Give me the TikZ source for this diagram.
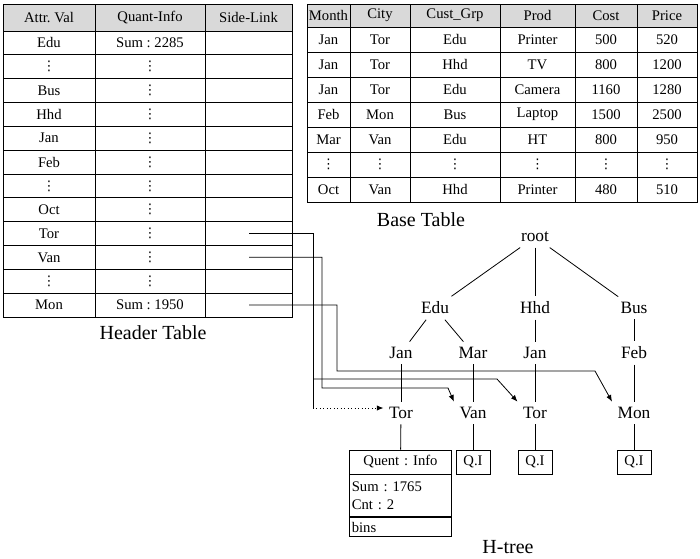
\documentclass[tikz,border=0pt]{standalone}
\usepackage{fontspec}
\setmainfont{Liberation Serif}
\newfontfamily\dotsfont{DejaVu Sans}
\usetikzlibrary{arrows.meta,positioning}

\newcommand{\vdts}{{\dotsfont\fontsize{10}{12}\selectfont ⋮}}

\tikzset{
  cell/.style={inner sep=0pt, font=\fontsize{11}{13}\selectfont},
  tnode/.style={inner sep=4pt, font=\fontsize{13}{15}\selectfont},
  caption/.style={font=\fontsize{15}{18}\selectfont},
  qibox/.style={draw, line width=0.6pt, minimum width=25.5pt, minimum height=18pt,
    inner sep=1pt, font=\fontsize{11}{13}\selectfont},
  qpart/.style={draw, line width=0.6pt, text width=73pt, inner sep=2pt, align=left,
    font=\fontsize{11}{13}\selectfont},
  tedge/.style={line width=0.6pt},
  wire/.style={line width=0.6pt},
  link/.style={line width=0.6pt, -{Latex[length=5pt,width=4pt]}},
}

\begin{document}
\frenchspacing
\begin{tikzpicture}[x=0.75pt,y=-0.75pt]
  \useasboundingbox (0,0) rectangle (700,558);

  % Header table
  \fill[gray!30] (3,4) rectangle (292,31);
  \draw[line width=0.6pt] (3,4) rectangle (292,317);
  \foreach \i in {0,...,11}
    \draw[line width=0.6pt] (3,{31+\i*23.83}) -- (292,{31+\i*23.83});
  \draw[line width=0.6pt] (95,4) -- (95,317);
  \draw[line width=0.6pt] (205,4) -- (205,317);
  \node[cell] (hAttr) at (49,17.5) {Attr. Val};
  \node[cell] (hQuant) at (150,17.5) {Quant-Info};
  \node[cell] (hSide) at (248.5,17.5) {Side-Link};
  \foreach \a/\q [count=\i] in {Edu/Sum : 2285, \vdts/\vdts, Bus/\vdts, Hhd/\vdts,
      Jan/\vdts, Feb/\vdts, \vdts/\vdts, Oct/\vdts, Tor/\vdts, Van/\vdts,
      \vdts/\vdts, Mon/Sum : 1950} {
    \node[cell] (attr\i) at (49,{31+(\i-0.5)*23.83}) {\a};
    \node[cell] (quant\i) at (150,{31+(\i-0.5)*23.83}) {\q};
  }
  \node[caption] (hCap) at (153,333) {Header Table};

  % Base table
  \fill[gray!30] (307,4) rectangle (697,27);
  \draw[line width=0.6pt] (307,4) rectangle (697,202);
  \foreach \i in {0,...,6}
    \draw[line width=0.6pt] (307,{27+\i*25}) -- (697,{27+\i*25});
  \foreach \x in {350,410,500,575,637}
    \draw[line width=0.6pt] (\x,4) -- (\x,202);
  \foreach \t/\x [count=\j] in {Month/328.5, City/380, Cust\_Grp/455, Prod/537.5,
      Cost/606, Price/667}
    \node[cell] (bHead\j) at (\x,15.5) {\t};
  \foreach \m/\c/\g/\p/\co/\pr [count=\i] in {Jan/Tor/Edu/Printer/500/520,
      Jan/Tor/Hhd/TV/800/1200, Jan/Tor/Edu/Camera/1160/1280,
      Feb/Mon/Bus/Laptop/1500/2500, Mar/Van/Edu/HT/800/950,
      \vdts/\vdts/\vdts/\vdts/\vdts/\vdts, Oct/Van/Hhd/Printer/480/510} {
    \node[cell] (bMonth\i) at (328.5,{27+(\i-0.5)*25}) {\m};
    \node[cell] (bCity\i) at (380,{27+(\i-0.5)*25}) {\c};
    \node[cell] (bGrp\i) at (455,{27+(\i-0.5)*25}) {\g};
    \node[cell] (bProd\i) at (537.5,{27+(\i-0.5)*25}) {\p};
    \node[cell] (bCost\i) at (606,{27+(\i-0.5)*25}) {\co};
    \node[cell] (bPrice\i) at (667,{27+(\i-0.5)*25}) {\pr};
  }
  \node[caption] (bCap) at (421,220) {Base Table};

  % H-tree
  \node[tnode] (root) at (535,237) {root};
  \node[tnode] (edu) at (435,308) {Edu};
  \node[tnode] (hhd) at (535,308) {Hhd};
  \node[tnode] (bus) at (634,308) {Bus};
  \node[tnode] (jan1) at (401,353) {Jan};
  \node[tnode] (mar) at (473,353) {Mar};
  \node[tnode] (jan2) at (535,353) {Jan};
  \node[tnode] (feb) at (634,353) {Feb};
  \node[tnode] (tor1) at (401,413) {Tor};
  \node[tnode] (van) at (473,413) {Van};
  \node[tnode] (tor2) at (535,413) {Tor};
  \node[tnode] (mon) at (634,413) {Mon};

  \node[qpart, minimum height=18pt, align=center] (qhead) at (400.5,462) {Quent : Info};
  \node[qpart, minimum height=31.5pt, below=0pt of qhead] (qbody) {Sum : 1765\\Cnt : 2};
  \node[qpart, minimum height=14.25pt, below=0pt of qbody] (qbins) {bins};
  \node[qibox] (qi2) at (473,462) {Q.I};
  \node[qibox] (qi3) at (535,462) {Q.I};
  \node[qibox] (qi4) at (634,462) {Q.I};
  \node[caption] (tCap) at (508,547) {H-tree};

  \draw[tedge] (root) -- (edu);
  \draw[tedge] (root) -- (hhd);
  \draw[tedge] (root) -- (bus);
  \draw[tedge] (edu) -- (jan1);
  \draw[tedge] (edu) -- (mar);
  \draw[tedge] (hhd) -- (jan2);
  \draw[tedge] (bus) -- (feb);
  \draw[tedge] (jan1) -- (tor1);
  \draw[tedge] (mar) -- (van);
  \draw[tedge] (jan2) -- (tor2);
  \draw[tedge] (feb) -- (mon);
  \draw[tedge] (tor1) -- (qhead);
  \draw[tedge] (van) -- (qi2);
  \draw[tedge] (tor2) -- (qi3);
  \draw[tedge] (mon) -- (qi4);

  % Side links
  \coordinate (slTor) at (249,233.5);
  \coordinate (slVan) at (249,257.3);
  \coordinate (slMon) at (249,305);
  \coordinate (kTor) at (313,233.5);
  \coordinate (kTorDown) at (313,408);
  \coordinate (kTorFork) at (313,379);
  \coordinate (kTorBend) at (497,379);
  \coordinate (kVan) at (322,257.3);
  \coordinate (kVanDown) at (322,388);
  \coordinate (kVanBend) at (448,388);
  \coordinate (kMon) at (337,305);
  \coordinate (kMonDown) at (337,371);
  \coordinate (kMonBend) at (595,371);

  \draw[wire] (slTor) -- (kTor) -- (kTorDown);
  \draw[link, dotted] (kTorDown) -- (kTorDown -| tor1.west);
  \draw[link] (kTorFork) -- (kTorBend) -- (tor2.north west);
  \draw[link] (slVan) -- (kVan) -- (kVanDown) -- (kVanBend) -- (van.north west);
  \draw[link] (slMon) -- (kMon) -- (kMonDown) -- (kMonBend) -- (mon.north west);
\end{tikzpicture}
\end{document}
